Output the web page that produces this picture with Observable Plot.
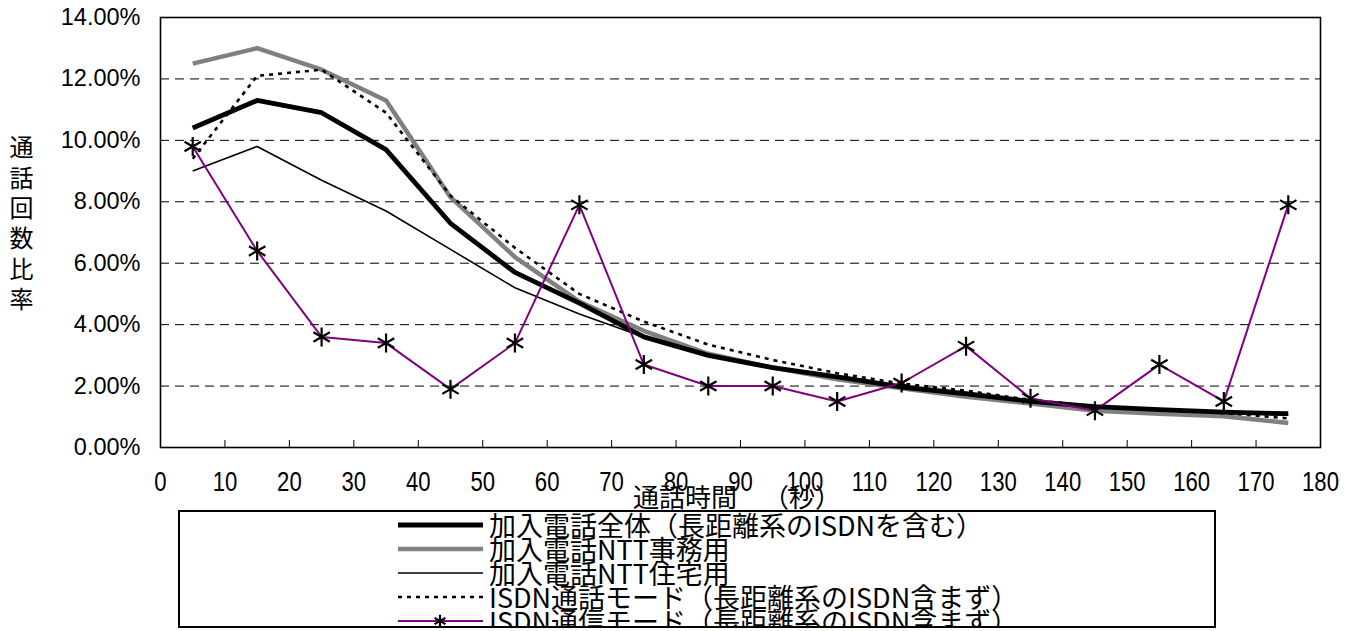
<!DOCTYPE html>
<html>
<head>
<meta charset="utf-8">
<script src="https://cdn.jsdelivr.net/npm/d3@7"></script>
<script src="https://cdn.jsdelivr.net/npm/@observablehq/plot@0.6"></script>
<style>
  html, body { margin: 0; padding: 0; background: #fff; }
  #wrap { position: relative; width: 1357px; height: 631px; overflow: hidden; background: #fff; }
  #chart { position: absolute; left: 0; top: 0; }
  .ytitle { position: absolute; left: 8px; top: 135px; writing-mode: vertical-rl; font-family: "Noto Sans CJK JP", sans-serif; font-size: 24px; letter-spacing: 6.4px; line-height: 26px; color: #000; }
  .xtitle { position: absolute; left: 633px; top: 482px; font-family: "Noto Sans CJK JP", sans-serif; font-size: 26px; line-height: 28px; white-space: pre; color: #000; text-spacing-trim: space-all; }
  #legend { position: absolute; left: 178px; top: 510px; width: 1038px; height: 118px; box-sizing: border-box; border: 2px solid #000; overflow: hidden; background: #fff; }
  .lrow { position: absolute; left: 0; height: 24px; width: 1030px; }
  .lrow svg { position: absolute; left: 218px; top: 0; }
  .lrow span { position: absolute; left: 309px; top: -3px; font-family: "Noto Sans CJK JP", sans-serif; font-size: 27px; line-height: 30px; white-space: pre; color: #000; text-spacing-trim: space-all; }
</style>
</head>
<body>
<div id="wrap">
  <div id="chart"></div>
  <div class="ytitle">通話回数比率</div>
  <div class="xtitle">通話時間　（秒）</div>
  <div id="legend"></div>
</div>
<script>
// ---- data ----
const seconds = [5, 15, 25, 35, 45, 55, 65, 75, 85, 95, 105, 115, 125, 135, 145, 155, 165, 175];
const totalSubscriber = [10.4, 11.3, 10.9, 9.7, 7.3, 5.7, 4.7, 3.6, 3.0, 2.6, 2.3, 1.97, 1.75, 1.5, 1.33, 1.23, 1.15, 1.1];
const nttOffice = [12.5, 13.0, 12.3, 11.3, 8.15, 6.2, 4.75, 3.8, 3.05, 2.6, 2.22, 1.93, 1.65, 1.43, 1.2, 1.1, 1.02, 0.8];
const nttResidential = [9.0, 9.8, 8.7, 7.7, 6.45, 5.2, 4.35, 3.6, 3.0, 2.6, 2.28, 1.96, 1.72, 1.5, 1.3, 1.2, 1.12, 1.06];
const isdnVoice = [9.4, 12.1, 12.3, 10.9, 8.2, 6.5, 5.0, 4.1, 3.35, 2.85, 2.42, 2.08, 1.85, 1.55, 1.35, 1.22, 1.12, 0.95];
const isdnData = [9.8, 6.4, 3.6, 3.4, 1.9, 3.4, 7.9, 2.7, 2.0, 2.0, 1.5, 2.1, 3.3, 1.6, 1.2, 2.7, 1.5, 7.9];

const seriesNames = [
  "加入電話全体（長距離系のISDNを含む）",
  "加入電話NTT事務用",
  "加入電話NTT住宅用",
  "ISDN通話モード（長距離系のISDN含まず）",
  "ISDN通信モード（長距離系のISDN含まず）"
];
const xTicks = [0, 10, 20, 30, 40, 50, 60, 70, 80, 90, 100, 110, 120, 130, 140, 150, 160, 170, 180];
const yTicks = [0, 2, 4, 6, 8, 10, 12, 14];
const gridTicks = [2, 4, 6, 8, 10, 12];

// ---- styles per series ----
const styles = [
  {stroke: "#000000", strokeWidth: 4.8, dash: null, marker: false},
  {stroke: "#808080", strokeWidth: 4.5, dash: null, marker: false},
  {stroke: "#000000", strokeWidth: 1.6, dash: null, marker: false},
  {stroke: "#000000", strokeWidth: 2.6, dash: "4,5", marker: false},
  {stroke: "#800080", strokeWidth: 2, dash: null, marker: true}
];
const values = [totalSubscriber, nttOffice, nttResidential, isdnVoice, isdnData];
const rows = values.map((vals, s) => seconds.map((x, i) => ({x, y: vals[i], s})));
const drawOrder = [1, 0, 2, 3, 4];

const marks = [
  Plot.ruleY(gridTicks, {y: d => d, stroke: "#000", strokeWidth: 1, strokeDasharray: "9,6"}),
  Plot.ruleX(xTicks, {x: d => d, insetTop: 423, stroke: "#000", strokeWidth: 1}),
  ...drawOrder.map(s => Plot.line(rows[s], {
    x: "x", y: "y", stroke: styles[s].stroke, strokeWidth: styles[s].strokeWidth,
    strokeDasharray: styles[s].dash || undefined, strokeLinejoin: "round", strokeLinecap: "butt"
  })),
  Plot.dot(rows[4], {x: "x", y: "y", symbol: "asterisk", r: 9, stroke: "#000", strokeWidth: 2.2}),
  Plot.frame({stroke: "#000", strokeWidth: 1.6}),
  Plot.axisY({ticks: yTicks, tickFormat: d => d.toFixed(2) + "%", tickSize: 0, tickPadding: 20, label: null}),
  Plot.axisX({ticks: xTicks, tickFormat: d => String(d), tickSize: 0, tickPadding: 24, label: null})
];

const svg = Plot.plot({
  width: 1357,
  height: 500,
  marginLeft: 160,
  marginRight: 37,
  marginTop: 17,
  marginBottom: 53,
  x: {domain: [0, 180]},
  y: {domain: [0, 14]},
  style: {fontFamily: "Liberation Sans, Arial, sans-serif", fontSize: "23.5px", background: "white", color: "#000", overflow: "visible"},
  marks
});
document.getElementById("chart").appendChild(svg);

// condensed x tick labels
d3.select(svg).selectAll('g[aria-label="x-axis tick label"] text').each(function() {
  const t = d3.select(this);
  t.attr("font-size", "27px");
  const tr = t.attr("transform");
  if (tr) {
    t.attr("transform", tr + " scale(0.82,1)");
  } else {
    const x = +t.attr("x") || 0;
    t.attr("transform", `translate(${x},0) scale(0.82,1) translate(${-x},0)`);
  }
});
d3.select(svg).selectAll('g[aria-label="x-axis tick label"]').attr("font-size", "27px");

// ---- legend ----
const legend = document.getElementById("legend");
seriesNames.forEach((name, i) => {
  const st = styles[i];
  const row = document.createElement("div");
  row.className = "lrow";
  row.style.top = (1 + 24 * i) + "px";
  const ns = "http://www.w3.org/2000/svg";
  const sv = document.createElementNS(ns, "svg");
  sv.setAttribute("width", "86");
  sv.setAttribute("height", "24");
  const ln = document.createElementNS(ns, "line");
  ln.setAttribute("x1", "0"); ln.setAttribute("x2", "85");
  ln.setAttribute("y1", "12"); ln.setAttribute("y2", "12");
  ln.setAttribute("stroke", st.stroke);
  ln.setAttribute("stroke-width", st.strokeWidth);
  if (st.dash) ln.setAttribute("stroke-dasharray", st.dash);
  sv.appendChild(ln);
  if (st.marker) {
    const p = document.createElementNS(ns, "path");
    p.setAttribute("d", d3.symbol(d3.symbolAsterisk, 110)());
    p.setAttribute("transform", "translate(42,12)");
    p.setAttribute("stroke", "#000");
    p.setAttribute("stroke-width", "2.2");
    p.setAttribute("fill", "none");
    sv.appendChild(p);
  }
  row.appendChild(sv);
  const sp = document.createElement("span");
  sp.textContent = name;
  row.appendChild(sp);
  legend.appendChild(row);
});
</script>
</body>
</html>
